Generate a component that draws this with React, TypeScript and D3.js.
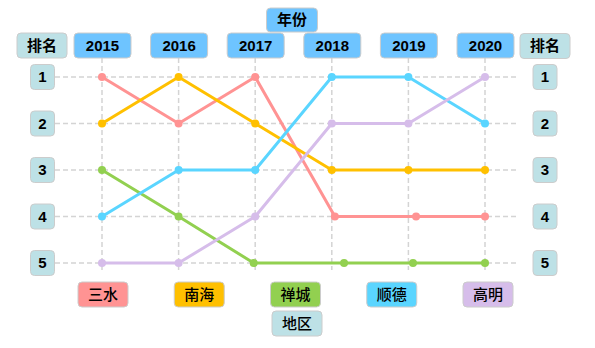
import React, { useEffect, useRef } from 'react';
import * as d3 from 'd3';

const years = ['2015', '2016', '2017', '2018', '2019', '2020'];
const ranks = [1, 2, 3, 4, 5];
const regions = ['三水', '南海', '禅城', '顺德', '高明'];
const colors = ['#ff9393', '#ffc000', '#92d050', '#5ad5ff', '#d6bdea'];

// rank per year for each region
const rankSanshui = [1, 2, 1, 4, 4, 4];
const rankNanhai = [2, 1, 2, 3, 3, 3];
const rankChancheng = [3, 4, 5, 5, 5, 5];
const rankShunde = [4, 3, 3, 1, 1, 2];
const rankGaoming = [5, 5, 4, 2, 2, 1];

// small horizontal shifts of some points (in year units), as in the picture
const shiftSanshui = [0, 0, 0, 0.04, 0.1, 0];
const shiftChancheng = [0, 0, -0.02, 0.16, 0.06, 0];
const shiftNone = [0, 0, 0, 0, 0, 0];

const seriesRanks = [rankSanshui, rankNanhai, rankChancheng, rankShunde, rankGaoming];
const seriesShift = [shiftSanshui, shiftNone, shiftChancheng, shiftNone, shiftNone];

const W = 595;
const H = 348;
const YEAR_FILL = '#6ec4ff';
const RANK_FILL = '#bde1e6';
const FONT = '"Liberation Sans", Arial, "Noto Sans CJK SC", sans-serif';

const App: React.FC = () => {
  const svgRef = useRef<SVGSVGElement>(null);

  useEffect(() => {
    if (!svgRef.current) return;
    const svg = d3.select(svgRef.current);
    svg.selectAll('*').remove();

    const x = d3.scaleLinear().domain([0, years.length - 1]).range([102, 485]);
    const y = d3.scaleLinear().domain([1, 5]).range([77, 263]);

    const box = (cx: number, cy: number, w: number, h: number, fill: string, text: string, weight: string | number, size = 14) => {
      const g = svg.append('g').attr('transform', `translate(${cx},${cy})`);
      g.append('rect')
        .attr('x', -w / 2).attr('y', -h / 2)
        .attr('width', w).attr('height', h)
        .attr('rx', 4)
        .attr('fill', fill)
        .attr('stroke', '#cccccc')
        .attr('stroke-width', 1);
      g.append('text')
        .attr('text-anchor', 'middle')
        .attr('dy', '0.36em')
        .attr('font-family', FONT)
        .attr('font-size', size)
        .attr('font-weight', weight)
        .attr('fill', '#000')
        .text(text);
    };

    // grid
    const grid = svg.append('g')
      .attr('stroke', '#d4d4d4')
      .attr('stroke-width', 1.5)
      .attr('stroke-dasharray', '5 3')
      .attr('fill', 'none');
    years.forEach((_, i) => {
      grid.append('line')
        .attr('x1', x(i)).attr('x2', x(i))
        .attr('y1', 58).attr('y2', 270);
    });
    ranks.forEach(r => {
      grid.append('line')
        .attr('x1', 55).attr('x2', 519)
        .attr('y1', y(r)).attr('y2', y(r));
    });

    // lines and points
    seriesRanks.forEach((data, s) => {
      const shift = seriesShift[s];
      const pts = data.map((r, i) => [x(i + shift[i]), y(r)] as [number, number]);
      svg.append('path')
        .attr('d', d3.line()(pts))
        .attr('fill', 'none')
        .attr('stroke', colors[s])
        .attr('stroke-width', 3)
        .attr('stroke-linejoin', 'round');
      svg.append('g')
        .selectAll('circle')
        .data(pts)
        .enter()
        .append('circle')
        .attr('cx', d => d[0])
        .attr('cy', d => d[1])
        .attr('r', 4)
        .attr('fill', colors[s]);
    });

    // headers
    box(292, 20, 51, 24, YEAR_FILL, '年份', 'bold', 15);
    years.forEach((yr, i) => box(x(i) + 0.5, 45.5, 57, 25, YEAR_FILL, yr, 'bold', 15));
    box(42, 45.5, 50, 25, RANK_FILL, '排名', 'bold', 15);
    box(545, 46, 50, 25, RANK_FILL, '排名', 'bold', 15);
    ranks.forEach(r => {
      box(42.5, y(r), 24, 25, RANK_FILL, String(r), 'bold', 15);
      box(545, y(r), 24, 25, RANK_FILL, String(r), 'bold', 15);
    });

    // legend
    const lx = d3.scalePoint<string>().domain(regions).range([103, 488]);
    regions.forEach((name, i) => box(lx(name)!, 294.5, 50, 25, colors[i], name, 500, 15));
    box(297, 323.5, 50, 25, RANK_FILL, '地区', 500, 15);
  }, []);

  return (
    <div style={{ position: 'absolute', left: 0, top: 0, width: W, height: H, background: '#fff' }}>
      <svg ref={svgRef} width={W} height={H} />
    </div>
  );
};

export default App;
